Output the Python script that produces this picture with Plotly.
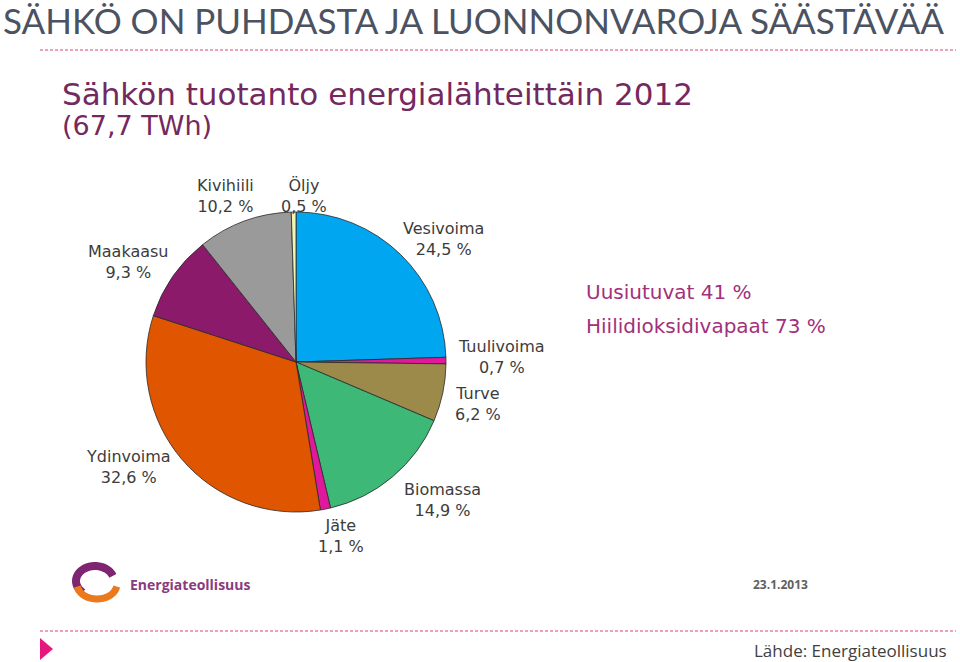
import numpy as np
import plotly.graph_objects as go

W, H = 960, 662

# ---- data ----
sources = ["Vesivoima", "Tuulivoima", "Turve", "Biomassa", "Jäte",
           "Ydinvoima", "Maakaasu", "Kivihiili", "Öljy"]
shares = [24.5, 0.7, 6.2, 14.9, 1.1, 32.6, 9.3, 10.2, 0.5]
colors = ["#00a6f0", "#e0189c", "#9c8a4a", "#3db877", "#e0189c",
          "#e05500", "#8b1a6b", "#9a9a9a", "#f5f5b0"]
total_twh = "67,7"
year = 2012
renewables = 41
co2_free = 73

# label positions (pixel coordinates of label centres)
label_pos = {
    "Vesivoima": (443, 239), "Tuulivoima": (501, 357), "Turve": (478, 404),
    "Biomassa": (442, 500), "Jäte": (341, 536), "Ydinvoima": (128, 467),
    "Maakaasu": (128, 262), "Kivihiili": (225, 196), "Öljy": (304, 196),
}


def px(x):
    return x / W


def py(y):
    return 1 - y / H


def fmt(v):
    return f"{v:.1f}".replace(".", ",")


cx, cy, r = 296, 362, 150

fig = go.Figure(go.Pie(
    labels=sources, values=shares, sort=False, direction="clockwise",
    rotation=0, textinfo="none", hoverinfo="label+percent",
    marker=dict(colors=colors, line=dict(color="#2a2a2a", width=0.8)),
    domain=dict(x=[px(cx - r), px(cx + r)], y=[py(cy + r), py(cy - r)]),
    showlegend=False,
))

ann = []
for s, v in zip(sources, shares):
    x, y = label_pos[s]
    ann.append(dict(x=px(x), y=py(y), xref="paper", yref="paper",
                    text=f"{s}<br>{fmt(v)} %", showarrow=False,
                    xanchor="center", yanchor="middle", align="center",
                    font=dict(family="DejaVu Sans", size=16, color="#3c3c3c")))

# slide title
ann.append(dict(x=px(1), y=py(20), xref="paper", yref="paper",
                text="SÄHKÖ ON PUHDASTA JA LUONNONVAROJA SÄÄSTÄVÄÄ",
                showarrow=False, xanchor="left", yanchor="middle",
                font=dict(family="Lato", size=35, color="#4b5262")))
# chart title
ann.append(dict(x=px(60), y=py(94), xref="paper", yref="paper",
                text=f"Sähkön tuotanto energialähteittäin {year}",
                showarrow=False, xanchor="left", yanchor="middle",
                font=dict(family="DejaVu Sans", size=31, color="#74295e")))
ann.append(dict(x=px(60), y=py(125), xref="paper", yref="paper",
                text=f"({total_twh} TWh)",
                showarrow=False, xanchor="left", yanchor="middle",
                font=dict(family="DejaVu Sans", size=27, color="#74295e")))
# side notes
ann.append(dict(x=px(584), y=py(292), xref="paper", yref="paper",
                text=f"Uusiutuvat {renewables} %",
                showarrow=False, xanchor="left", yanchor="middle",
                font=dict(family="DejaVu Sans", size=20, color="#a2307c")))
ann.append(dict(x=px(584), y=py(326), xref="paper", yref="paper",
                text=f"Hiilidioksidivapaat {co2_free} %",
                showarrow=False, xanchor="left", yanchor="middle",
                font=dict(family="DejaVu Sans", size=20, color="#a2307c")))
# logo text and date
ann.append(dict(x=px(128), y=py(584), xref="paper", yref="paper",
                text="<b>Energiateollisuus</b>",
                showarrow=False, xanchor="left", yanchor="middle",
                font=dict(family="Open Sans", size=14, color="#8a3a80")))
ann.append(dict(x=px(780), y=py(584), xref="paper", yref="paper",
                text="<b>23.1.2013</b>",
                showarrow=False, xanchor="center", yanchor="middle",
                font=dict(family="Open Sans", size=12, color="#606060")))
# source
ann.append(dict(x=px(949), y=py(650), xref="paper", yref="paper",
                text="Lähde: Energiateollisuus",
                showarrow=False, xanchor="right", yanchor="middle",
                font=dict(family="Open Sans", size=17, color="#404040")))

shapes = []
for yy in (50, 631):
    shapes.append(dict(type="line", xref="paper", yref="paper",
                       x0=px(40), x1=px(956), y0=py(yy), y1=py(yy),
                       line=dict(color="#e0407f", width=1, dash="3px,2px")))
# triangle bullet
shapes.append(dict(type="path", xref="paper", yref="paper",
                   path=f"M {px(40)},{py(638)} L {px(53)},{py(649)} L {px(40)},{py(660)} Z",
                   fillcolor="#e6187f", line=dict(width=0)))


# logo swirl
def arc(x0, y0, rx, ry, a0, a1, n=30):
    t = np.linspace(np.radians(a0), np.radians(a1), n)
    pts = [f"{px(x0 + rx * np.cos(a))},{py(y0 - ry * np.sin(a))}" for a in t]
    return "M " + " L ".join(pts)


shapes.append(dict(type="path", xref="paper", yref="paper",
                   path=arc(95, 581, 19, 15, 20, 230),
                   line=dict(color="#7e2470", width=8)))
shapes.append(dict(type="path", xref="paper", yref="paper",
                   path=arc(97, 584, 20, 15, 190, 350),
                   line=dict(color="#ec7a1c", width=7)))

fig.update_layout(
    width=W, height=H, margin=dict(l=0, r=0, t=0, b=0),
    paper_bgcolor="white", plot_bgcolor="white",
    annotations=ann, shapes=shapes,
)

fig.write_html("out.html")
